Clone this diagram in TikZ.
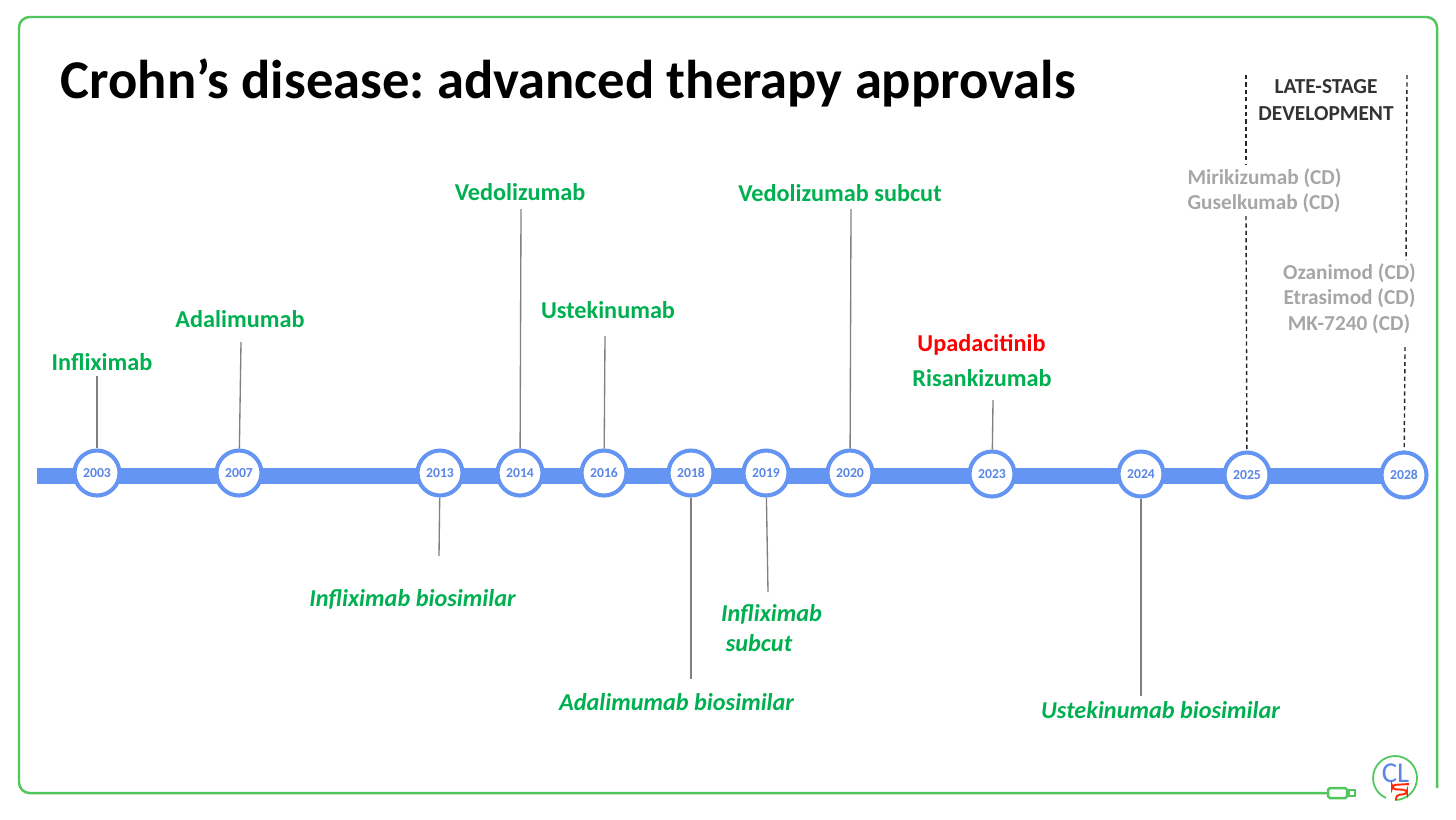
\documentclass[tikz,border=0pt]{standalone}
\usepackage{fontspec}
\setmainfont{Carlito}
\usepackage{xcolor}
\definecolor{framegreen}{HTML}{4FC75C}
\definecolor{drugGreen}{HTML}{00B050}
\definecolor{barblue}{HTML}{6595F2}
\definecolor{yearblue}{HTML}{5A86E6}
\definecolor{pipegray}{HTML}{A6A6A6}
\begin{document}
\begin{tikzpicture}[
		yearnode/.style={circle, draw=barblue, line width=1.15pt, fill=white, minimum size=0.45cm, inner sep=0pt, text=yearblue, font=\fontsize{3.9}{5}\selectfont\bfseries},
		drug/.style={text=drugGreen, font=\fontsize{6.9}{8}\selectfont\bfseries, inner sep=0pt},
		bio/.style={drug, font=\fontsize{6.9}{8}\selectfont\bfseries\itshape},
		pipe/.style={text=pipegray, font=\fontsize{6.06}{7}\selectfont\bfseries, inner sep=0pt},
		conn/.style={draw=black!50, line width=0.38pt},
		dashconn/.style={draw=black!85, line width=0.4pt, dash pattern=on 1.2pt off 0.9pt}
	]
	\useasboundingbox (0,0) rectangle (14.56,-8.19);
	\frenchspacing

	% Frame
	\coordinate (frameend) at (14.37,-7.88);
	\node[draw=framegreen, line width=0.7pt, rounded corners=0.5pt, fill=white, minimum width=0.19cm, minimum height=0.1cm, inner sep=0pt] (plug) at (13.375,-7.93) {};
	\node[draw=framegreen, line width=0.5pt, fill=white, minimum width=0.06cm, minimum height=0.06cm, inner sep=0pt, anchor=west] (plugtip) at (plug.east) {};
	\draw[framegreen, line width=0.7pt, rounded corners=3pt] (frameend) -- (14.37,-0.17) -- (0.19,-0.17) -- (0.19,-7.93) -- (plug.west);

	% Title
	\node[anchor=west, inner sep=0pt, font=\fontsize{15.54}{18}\selectfont\bfseries] (title) at (0.6,-0.83) {Crohn’s disease: advanced therapy approvals};

	% Timeline bar
	\coordinate (barstart) at (0.37,-4.76);
	\coordinate (barend) at (14.04,-4.76);
	\draw[barblue, line width=4.6pt] (barstart) -- (barend);

	% Years
	\node[yearnode] (y2003) at (0.97,-4.73) {2003};
	\node[yearnode] (y2007) at (2.39,-4.73) {2007};
	\node[yearnode] (y2013) at (4.40,-4.73) {2013};
	\node[yearnode] (y2014) at (5.20,-4.73) {2014};
	\node[yearnode] (y2016) at (6.04,-4.73) {2016};
	\node[yearnode] (y2018) at (6.91,-4.73) {2018};
	\node[yearnode] (y2019) at (7.66,-4.73) {2019};
	\node[yearnode] (y2020) at (8.50,-4.73) {2020};
	\node[yearnode] (y2023) at (9.92,-4.74) {2023};
	\node[yearnode] (y2024) at (11.41,-4.74) {2024};
	\node[yearnode] (y2025) at (12.47,-4.75) {2025};
	\node[yearnode] (y2028) at (14.04,-4.75) {2028};

	% Approvals above the bar
	\node[drug] (inflix) at (1.02,-3.62) {Infliximab};
	\node[drug] (adali) at (2.40,-3.19) {Adalimumab};
	\node[drug] (vedo) at (5.20,-1.92) {Vedolizumab};
	\node[drug] (uste) at (6.08,-3.10) {Ustekinumab};
	\node[drug] (vedosc) at (8.40,-1.93) {Vedolizumab subcut};
	\node[drug, text=red] (upa) at (9.815,-3.445) {Upadacitinib};
	\node[drug] (risa) at (9.82,-3.78) {Risankizumab};

	% Biosimilars below the bar
	\node[bio] (inflixbio) at (4.125,-5.995) {Infliximab biosimilar};
	\node[bio] (adalibio) at (6.765,-7.02) {Adalimumab biosimilar};
	\node[bio] (inflixsc) at (7.715,-6.14) {Infliximab};
	\node[bio] (inflixsctwo) at (7.59,-6.43) {subcut};
	\node[bio] (ustebio) at (11.605,-7.10) {Ustekinumab biosimilar};

	% Late-stage
	\node[inner sep=0pt, align=center, text=black!80, font=\fontsize{6.08}{7.7}\selectfont\bfseries] (late) at (13.26,-1.0) {LATE-STAGE\\DEVELOPMENT};
	\node[pipe] (miri) at (12.645,-1.78) {Mirikizumab (CD)};
	\node[pipe] (gusel) at (12.64,-2.035) {Guselkumab (CD)};
	\node[pipe] (oza) at (13.495,-2.73) {Ozanimod (CD)};
	\node[pipe] (etra) at (13.495,-2.98) {Etrasimod (CD)};
	\node[pipe] (mk) at (13.49,-3.24) {MK-7240 (CD)};

	% Free ends of the connectors
	\coordinate (inflixend) at (0.97,-3.76);
	\coordinate (adaliend) at (2.41,-3.42);
	\coordinate (vedoend) at (5.21,-2.09);
	\coordinate (usteend) at (6.05,-3.36);
	\coordinate (vedoscend) at (8.51,-2.09);
	\coordinate (risaend) at (9.93,-4.0);
	\coordinate (inflixbioend) at (4.39,-5.56);
	\coordinate (adalibioend) at (6.91,-6.79);
	\coordinate (inflixscend) at (7.68,-5.92);
	\coordinate (ustebioend) at (11.41,-6.96);

	% Connectors
	\draw[conn] (y2003) -- (inflixend);
	\draw[conn] (y2007) -- (adaliend);
	\draw[conn] (y2014) -- (vedoend);
	\draw[conn] (y2016) -- (usteend);
	\draw[conn] (y2020) -- (vedoscend);
	\draw[conn] (y2023) -- (risaend);
	\draw[conn] (y2013) -- (inflixbioend);
	\draw[conn] (y2018) -- (adalibioend);
	\draw[conn] (y2019) -- (inflixscend);
	\draw[conn] (y2024) -- (ustebioend);

	% Dashed brackets
	\coordinate (lateleft) at (12.46,-0.75);
	\coordinate (lateleftend) at (12.46,-1.65);
	\coordinate (midleft) at (12.46,-2.16);
	\coordinate (lateright) at (14.07,-0.75);
	\coordinate (laterightend) at (14.06,-2.60);
	\coordinate (midright) at (14.05,-3.47);
	\draw[dashconn] (lateleft) -- (lateleftend);
	\draw[dashconn] (midleft) -- (y2025);
	\draw[dashconn] (lateright) -- (laterightend);
	\draw[dashconn] (midright) -- (y2028);

	% Logo
	\draw[framegreen, line width=0.5pt] (13.95,-8.0) arc (-90:230:0.22) -- (13.86,-7.98);
	\node[text=yearblue, inner sep=0pt, font=\fontsize{8.2}{10}\selectfont] (logo) at (13.955,-7.73) {CL};
	\draw[red!70!orange, line width=0.55pt, rounded corners=1pt] (14.09,-7.84) -- (13.92,-7.85) -- (13.92,-7.89) -- (14.07,-7.90) -- (14.07,-7.94) -- (13.96,-7.95) -- (13.96,-8.0);

\end{tikzpicture}
\end{document}
